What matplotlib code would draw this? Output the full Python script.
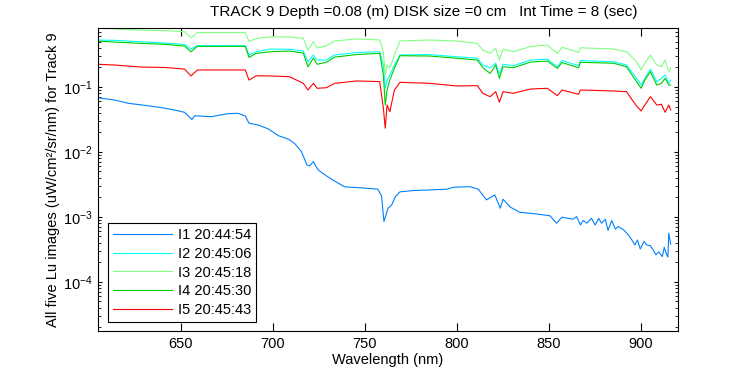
"""
Lu spectra for track 9: five images on a log axis, MATLAB-style figure.
"""

import matplotlib

matplotlib.use("Agg")
import matplotlib.pyplot as plt
import numpy as np
from matplotlib.ticker import LogLocator, NullFormatter

plt.rcParams["font.family"] = ["Liberation Sans", "DejaVu Sans"]
plt.rcParams["mathtext.fontset"] = "custom"
plt.rcParams["mathtext.rm"] = "Liberation Sans"
plt.rcParams["mathtext.it"] = "Liberation Sans"

OUT = "out.png"

TITLE = "TRACK 9 Depth =0.08 (m) DISK size =0 cm   Int Time = 8 (sec)"
XLABEL = "Wavelength (nm)"
YLABEL = "All five Lu images (uW/cm\u00b2/sr/nm) for Track 9"
LABELS = ["I1 20:44:54", "I2 20:45:06", "I3 20:45:18", "I4 20:45:30", "I5 20:45:43"]
COLORS = ["#0080ff", "#00ffff", "#80ff80", "#00cc00", "#ff0000"]

# I1 (deep, dim image) has its own sampling
wl_i1 = [605, 614, 621.5, 632, 639.5, 646.5, 652, 656, 657.5, 666.5, 675.5, 681,
         685, 687, 692, 697.5, 703, 708.5, 712, 715.5, 718.5, 720, 722, 724.5,
         730, 735.5, 739, 748, 757, 759, 760.3, 762.5, 764.5, 766.5, 769, 776,
         785, 794.5, 798, 807, 811.5, 816, 820.5, 823.5, 825, 829, 834, 843,
         850.5, 854, 857, 863, 865, 867, 868.5, 870.5, 873, 875, 877, 878.5,
         880.5, 882, 884, 886, 887.5, 890.5, 893, 895, 896.5, 898, 899.5, 901.5,
         903, 905, 906.5, 908, 909.5, 911.5, 912.5, 913.5, 914.5, 915, 916]
lu_i1 = [0.0684, 0.063, 0.0561, 0.0515, 0.0481, 0.0443, 0.0408, 0.0316, 0.0361,
         0.0349, 0.0388, 0.0394, 0.0358, 0.0277, 0.026, 0.0226, 0.0178, 0.0157,
         0.0133, 0.0101, 0.0063, 0.0061, 0.0071, 0.0053, 0.0041, 0.0033, 0.0029,
         0.0028, 0.00267, 0.0021, 0.00085, 0.00136, 0.00153, 0.00205, 0.00243,
         0.00254, 0.0026, 0.00267, 0.00286, 0.00292, 0.00267, 0.00183, 0.00218,
         0.00136, 0.00187, 0.00141, 0.00118, 0.00111, 0.00104, 0.0008, 0.00099,
         0.00092, 0.00101, 0.00075, 0.00088, 0.0008, 0.00095, 0.00075, 0.00095,
         0.0008, 0.00092, 0.00062, 0.00088, 0.00065, 0.00071, 0.00063, 0.00053,
         0.00044, 0.00037, 0.00044, 0.00032, 0.00042, 0.00037, 0.00036, 0.00031,
         0.00026, 0.00029, 0.000245, 0.00034, 0.00028, 0.00024, 0.00056, 0.00038]

# I2..I5 share one wavelength sampling
wl = [605, 614, 628, 641, 652, 655.5, 659, 676.5, 685, 687, 691, 698.5, 709,
      716.5, 719, 722, 724, 729, 733.5, 745.5, 758, 760, 761, 762, 763.5, 766,
      769, 785, 800, 811, 814, 818, 821, 823, 825, 830.5, 840, 849, 854.5, 857,
      866, 867, 885, 892, 897.5, 900, 902, 905, 908.5, 911, 913, 915, 916]
lu_i2 = [0.528, 0.523, 0.498, 0.475, 0.451, 0.384, 0.435, 0.432, 0.432, 0.311,
         0.349, 0.384, 0.38, 0.358, 0.245, 0.311, 0.26, 0.26, 0.311, 0.34, 0.349,
         0.218, 0.0955, 0.128, 0.153, 0.218, 0.311, 0.316, 0.292, 0.277, 0.218,
         0.198, 0.232, 0.157, 0.224, 0.213, 0.26, 0.268, 0.205, 0.256, 0.213,
         0.255, 0.245, 0.218, 0.136, 0.107, 0.136, 0.189, 0.121, 0.136, 0.153,
         0.114, 0.128]
lu_i3 = [0.90, 0.78, 0.75, 0.74, 0.71, 0.57, 0.69, 0.69, 0.69, 0.50, 0.56, 0.59,
         0.59, 0.56, 0.37, 0.50, 0.40, 0.43, 0.51, 0.55, 0.53, 0.345, 0.153,
         0.218, 0.196, 0.311, 0.51, 0.53, 0.51, 0.47, 0.37, 0.33, 0.394, 0.26,
         0.384, 0.349, 0.42, 0.443, 0.33, 0.41, 0.342, 0.402, 0.384, 0.349,
         0.245, 0.183, 0.232, 0.311, 0.218, 0.205, 0.26, 0.172, 0.194]
lu_i4 = [0.51, 0.492, 0.47, 0.455, 0.427, 0.349, 0.423, 0.423, 0.423, 0.286,
         0.33, 0.349, 0.358, 0.333, 0.205, 0.279, 0.224, 0.24, 0.289, 0.316, 0.33,
         0.153, 0.0528, 0.09, 0.128, 0.196, 0.303, 0.30, 0.277, 0.26, 0.198,
         0.162, 0.218, 0.136, 0.205, 0.198, 0.242, 0.251, 0.194, 0.238, 0.198,
         0.240, 0.232, 0.205, 0.121, 0.0955, 0.128, 0.172, 0.107, 0.114, 0.136,
         0.107, 0.107]
lu_i5 = [0.224, 0.218, 0.203, 0.200, 0.189, 0.148, 0.183, 0.183, 0.183, 0.128,
         0.149, 0.148, 0.144, 0.114, 0.090, 0.114, 0.0955, 0.0975, 0.114, 0.124,
         0.121, 0.047, 0.0232, 0.0528, 0.0417, 0.090, 0.118, 0.114, 0.1036, 0.105,
         0.080, 0.0709, 0.0847, 0.0582, 0.0847, 0.080, 0.0932, 0.0955, 0.0735,
         0.090, 0.0772, 0.090, 0.0868, 0.0847, 0.051, 0.0428, 0.0528, 0.0709,
         0.0528, 0.0542, 0.0408, 0.0528, 0.0443]

XTICKS = [650, 700, 750, 800, 850, 900]


def main():
    fig = plt.figure(figsize=(7.5, 3.75), dpi=100)
    ax = fig.add_axes([98 / 750, 44 / 375, 580 / 750, 303 / 375])

    series = [(wl_i1, lu_i1), (wl, lu_i2), (wl, lu_i3), (wl, lu_i4), (wl, lu_i5)]
    for (x, y), lab, col in zip(series, LABELS, COLORS):
        ax.plot(x, y, color=col, lw=0.8, label=lab)

    ax.set_yscale("log")
    ax.set_xlim(605, 920)
    ax.set_ylim(1.75e-5, 0.81)
    ax.set_xticks(XTICKS)
    ax.yaxis.set_major_locator(LogLocator(base=10, numticks=10))
    ax.yaxis.set_minor_locator(LogLocator(base=10, subs=np.arange(2, 10), numticks=10))
    ax.yaxis.set_minor_formatter(NullFormatter())

    ax.tick_params(which="both", direction="in", top=True, right=True,
                   labelsize=10.5, colors="black")
    ax.tick_params(axis="x", which="major", length=5.5, pad=4)
    ax.tick_params(axis="y", which="major", length=3.2, pad=4)
    ax.tick_params(axis="y", which="minor", length=2)
    for s in ax.spines.values():
        s.set_linewidth(0.8)

    ax.set_xlabel(XLABEL, fontsize=10.5, labelpad=2)
    ax.set_ylabel(YLABEL, fontsize=10.5, labelpad=2)
    fig.text(424 / 750, 1 - 12 / 375, TITLE, ha="center", va="center", fontsize=11)

    leg = ax.legend(loc="lower left", bbox_to_anchor=(0.0178, 0.0287),
                    fontsize=10.5, handlelength=4.0, handletextpad=0.4,
                    labelspacing=0.33, borderpad=0.35, borderaxespad=0,
                    fancybox=False, framealpha=1, edgecolor="black")
    leg.get_frame().set_linewidth(0.8)

    fig.savefig(OUT, dpi=100)
    plt.close(fig)


if __name__ == "__main__":
    main()
